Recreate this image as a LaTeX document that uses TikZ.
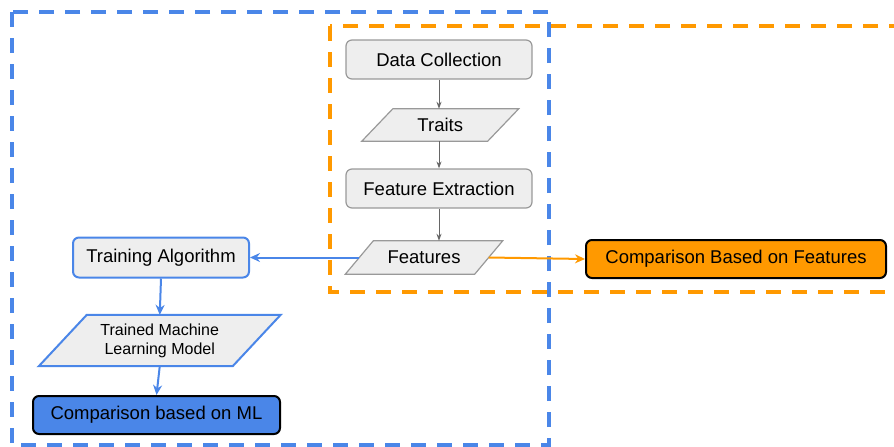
\documentclass[tikz,border=0pt]{standalone}
\usepackage{fontspec}
\setmainfont{Liberation Sans}
\usetikzlibrary{arrows.meta}
\definecolor{gblue}{HTML}{4A86E8}
\definecolor{gorange}{HTML}{FF9900}
\definecolor{gfill}{HTML}{EEEEEE}
\definecolor{gborder}{HTML}{999999}
\definecolor{garrow}{HTML}{666666}
\begin{document}
\begin{tikzpicture}[x=1pt,y=-1pt,
  every node/.style={font=\fontsize{18.5}{22}\selectfont, text=black, inner sep=0pt},
  gbox/.style={draw=gborder, fill=gfill, line width=1.2pt, rounded corners=6pt, minimum width=186pt, minimum height=39pt},
  para/.style={draw=none, fill=none},
  paradraw/.style={draw=gborder, fill=gfill, line width=1.2pt, line join=miter},
  grayarrow/.style={draw=garrow, line width=1pt, -{Stealth[length=7pt,width=5pt]}},
  bluearrow/.style={draw=gblue, line width=2pt, -{Stealth[length=10pt,width=9pt]}},
  orangearrow/.style={draw=gorange, line width=2pt, -{Stealth[length=10pt,width=9pt]}},
  region/.style={line width=3.5pt, dash pattern=on 15pt off 11pt}
]
\useasboundingbox (0,0) rectangle (894,447);

% dashed regions
\draw[region, draw=gorange] (330,26) rectangle (910,292);
\draw[region, draw=gblue] (12,12) rectangle (549,445);

% nodes
\node[gbox] (dc) at (439,59.5) {Data Collection};
\node[para, minimum width=125.5pt, minimum height=32pt] (traits) at (440.25,125) {};
\node[gbox] (fe) at (439,188.5) {Feature Extraction};
\node[para, minimum width=129pt, minimum height=33pt] (feat) at (424,257.5) {};
\node[draw=gblue, fill=gfill, line width=2pt, rounded corners=6pt, minimum width=176pt, minimum height=40pt] (ta) at (161,257.5) {Training Algorithm};
\node[para, minimum width=193.5pt, minimum height=51pt] (tml) at (159.75,340.5) {};
\node[draw=black, fill=gorange, line width=2pt, rounded corners=6pt, minimum width=300pt, minimum height=38pt] (cbf) at (736,259) {Comparison Based on Features};
\node[draw=black, fill=gblue, line width=2pt, rounded corners=6pt, minimum width=247pt, minimum height=38pt] (cml) at (156.5,415) {Comparison based on ML};

% parallelogram outlines
\draw[paradraw] ([xshift=15.5pt]traits.north west) -- ([xshift=15.5pt]traits.north east) -- ([xshift=-15.5pt]traits.south east) -- ([xshift=-15.5pt]traits.south west) -- cycle;
\node at (traits) {Traits};
\draw[paradraw] ([xshift=14pt]feat.north west) -- ([xshift=14pt]feat.north east) -- ([xshift=-14pt]feat.south east) -- ([xshift=-14pt]feat.south west) -- cycle;
\node at (feat) {Features};
\draw[draw=gblue, fill=gfill, line width=2pt, line join=miter] ([xshift=24pt]tml.north west) -- ([xshift=24pt]tml.north east) -- ([xshift=-24pt]tml.south east) -- ([xshift=-24pt]tml.south west) -- cycle;
\node[align=center, font=\fontsize{16}{19}\selectfont] at (tml) {Trained Machine\\Learning Model};

% connectors
\draw[grayarrow] (dc.south) -- (dc.south |- traits.north);
\draw[grayarrow] (fe.south |- traits.south) -- (fe.north);
\draw[grayarrow] (fe.south) -- (fe.south |- feat.north);
\draw[bluearrow] (feat.west) -- (ta.east |- feat.west);
\draw[orangearrow] (feat.east) -- (cbf.west);
\draw[bluearrow] (ta.south) -- (tml.north);
\draw[bluearrow] (tml.south) -- (cml.north);
\end{tikzpicture}
\end{document}
